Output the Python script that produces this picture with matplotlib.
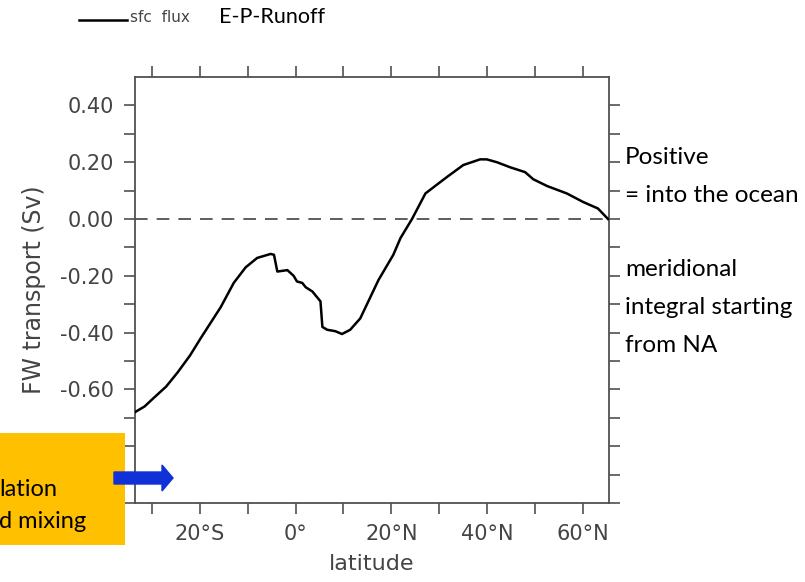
import matplotlib
matplotlib.use("Agg")
import matplotlib.pyplot as plt
import matplotlib.patches as mpatches
import numpy as np

# latitude (deg, S negative) and freshwater transport (Sv)
lat = [-33.5, -31.5, -29.6, -27.0, -24.6, -22.0, -19.8, -15.6, -12.9, -10.4,
       -8.0, -5.2, -4.5, -3.8, -1.7, -0.4, 0.3, 1.4, 2.1, 3.5,
       5.2, 5.6, 6.6, 8.3, 9.7, 11.4, 13.5, 17.3, 20.4, 21.9,
       24.3, 27.1, 28.8, 31.6, 35.0, 38.5, 39.9, 42.0, 44.8, 47.9,
       49.6, 52.5, 56.6, 60.0, 63.1, 65.2]
fw = [-0.68, -0.66, -0.63, -0.59, -0.54, -0.48, -0.42, -0.31, -0.225, -0.17,
      -0.137, -0.123, -0.126, -0.185, -0.18, -0.20, -0.22, -0.225, -0.24, -0.255,
      -0.29, -0.38, -0.39, -0.395, -0.405, -0.39, -0.35, -0.215, -0.126, -0.067,
      0.0, 0.09, 0.112, 0.148, 0.19, 0.21, 0.21, 0.20, 0.182, 0.165,
      0.14, 0.116, 0.09, 0.06, 0.037, 0.0]

x_ticks = [-20, 0, 20, 40, 60]
x_ticklabels = ["20°S", "0°", "20°N", "40°N", "60°N"]
# the two lowest labels sit under the orange box in the reference
y_ticks = [0.4, 0.2, 0.0, -0.2, -0.4, -0.6, -0.8, -1.0]
y_ticklabels = ["0.40", "0.20", "0.00", "-0.20", "-0.40", "-0.60", "", ""]

note_right_1 = ["Positive", "= into the ocean"]
note_right_2 = ["meridional", "integral starting", "from NA"]
note_box = ["lation", "d mixing"]

grey = "#505050"
txt_font = ["Lato", "DejaVu Sans"]

fig = plt.figure(figsize=(8.05, 5.82), dpi=100)
ax = fig.add_axes([0.1677, 0.1357, 0.5888, 0.732])

ax.plot(lat, fw, color="black", lw=1.8, zorder=3)
ax.axhline(0.0, color=grey, lw=1.3, ls=(0, (7, 5)), zorder=2)

ax.set_xlim(-33.5, 65.4)
ax.set_ylim(-1.0, 0.5)

ax.set_xticks(x_ticks)
ax.set_xticklabels(x_ticklabels)
ax.set_xticks(np.arange(-30, 61, 10), minor=True)
ax.set_yticks(y_ticks)
ax.set_yticklabels(y_ticklabels)
ax.set_yticks(np.arange(-0.9, 0.5, 0.2), minor=True)

for which in ("major", "minor"):
    ax.tick_params(axis="both", which=which, direction="out", length=8, width=1.2,
                   color=grey, top=True, right=True, labeltop=False, labelright=False)
ax.tick_params(axis="both", which="major", labelsize=15, labelcolor="#444444", pad=7)

for sp in ax.spines.values():
    sp.set_color(grey)
    sp.set_linewidth(1.3)

ax.set_xlabel("latitude", fontsize=16, color="#444444", labelpad=7)
ax.set_ylabel("FW transport (Sv)", fontsize=17, color="#444444", labelpad=10)

# legend-like header
fig.add_artist(plt.Line2D([79 / 805, 127 / 805], [1 - 20 / 582, 1 - 20 / 582],
                          color="black", lw=1.8, transform=fig.transFigure))
fig.text(130 / 805, 1 - 18 / 582, "sfc  flux", fontsize=11, color="#444444",
         va="center", ha="left")
fig.text(219 / 805, 1 - 17 / 582, "E-P-Runoff", fontsize=15.5, color="black",
         family=txt_font, va="center", ha="left")

# right hand notes
for i, s in enumerate(note_right_1):
    fig.text(625 / 805, 1 - (158 + 38 * i) / 582, s, fontsize=17.5,
             family=txt_font, va="center", ha="left")
for i, s in enumerate(note_right_2):
    fig.text(625 / 805, 1 - (270 + 37.5 * i) / 582, s, fontsize=17.5,
             family=txt_font, va="center", ha="left")

# orange box with clipped text and blue arrow
box = mpatches.Rectangle((0, 1 - 545 / 582), 125 / 805, 112 / 582,
                         transform=fig.transFigure, facecolor="#FFC000",
                         edgecolor="none", zorder=5)
fig.add_artist(box)
for i, s in enumerate(note_box):
    fig.text(-1 / 805, 1 - (490 + 31 * i) / 582, s, fontsize=17,
             family=txt_font, va="center", ha="left", zorder=6)

arrow = mpatches.FancyArrow(114 / 805, 1 - 478 / 582, 48 / 805, 0,
                            width=12 / 582, head_width=26 / 582, head_length=11 / 805,
                            length_includes_head=False, transform=fig.transFigure,
                            color="#1030D8", zorder=6)
fig.add_artist(arrow)

fig.savefig("out.png", dpi=100)
